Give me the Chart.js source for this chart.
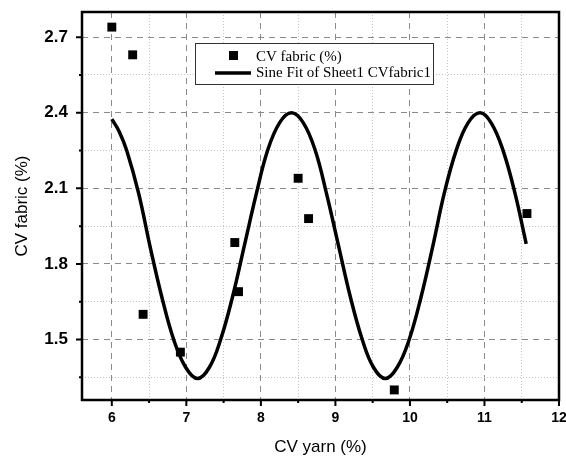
<!DOCTYPE html>
<html>
<head>
<meta charset="utf-8">
<script src="https://cdn.jsdelivr.net/npm/chart.js@4.4.0/dist/chart.umd.min.js"></script>
<style>
  html, body { margin: 0; padding: 0; background: #fff; }
  #wrap { width: 566px; height: 458px; position: relative; }
</style>
</head>
<body>
<div id="wrap"><canvas id="chart"></canvas></div>
<script>
// measured points
const yarnCV   = [6.00, 6.28, 6.42, 6.92, 7.65, 7.70, 8.50, 8.64, 9.79, 11.57]
const fabricCV = [2.74, 2.63, 1.60, 1.45, 1.885, 1.69, 2.14, 1.98, 1.30, 2.00]

// sine fit curve
const fitX = [6.00, 6.10, 6.20, 6.36, 6.52, 6.67, 6.83, 6.99, 7.15, 7.31, 7.46, 7.62, 7.78, 7.94, 8.09, 8.25, 8.41,
              8.57, 8.73, 8.88, 9.04, 9.20, 9.36, 9.51, 9.67, 9.83, 9.99, 10.15, 10.31, 10.46, 10.62,
              10.78, 10.94, 11.09, 11.25, 11.41, 11.56]
const fitY = [2.375, 2.325, 2.25, 2.08, 1.86, 1.67, 1.50, 1.39, 1.345, 1.39, 1.50, 1.67, 1.875, 2.08, 2.25, 2.36, 2.40,
              2.36, 2.25, 2.08, 1.875, 1.67, 1.50, 1.39, 1.345, 1.39, 1.50, 1.67, 1.875, 2.08, 2.25,
              2.36, 2.40, 2.36, 2.25, 2.08, 1.88]

const xLabels = ['6', '7', '8', '9', '10', '11', '12']
const yLabels = ['1.5', '1.8', '2.1', '2.4', '2.7']

const fmtY = v => (Math.round(v * 100) / 100).toFixed(1)
const isMajorX = v => Math.abs(v - Math.round(v)) < 1e-6 && xLabels.includes(String(Math.round(v)))
const isMajorY = v => Math.abs(v * 10 - Math.round(v * 10)) < 1e-6 && yLabels.includes(fmtY(v))

// major labels plus the halfway minor ticks
const xTickList = () => {
    const out = []
    xLabels.forEach((l, i) => {
        out.push({ value: +l })
        if (i < xLabels.length - 1) out.push({ value: (+l + +xLabels[i + 1]) / 2 })
    })
    return out
}
const yTickList = () => {
    const out = []
    const step = (+yLabels[1] - +yLabels[0]) / 2
    out.push({ value: +yLabels[0] - step })
    yLabels.forEach((l, i) => {
        out.push({ value: +l })
        if (i < yLabels.length - 1) out.push({ value: +l + step })
    })
    return out
}

const decor = {
    id: 'decor',
    afterDatasetsDraw(chart) {
        const { ctx, chartArea: a, scales: { x, y } } = chart
        ctx.save()
        ctx.strokeStyle = '#000'
        ctx.lineWidth = 2.5
        ctx.strokeRect(a.left, a.top, a.right - a.left, a.bottom - a.top)

        // outward tick marks
        ctx.lineWidth = 2
        ctx.beginPath()
        x.ticks.forEach(t => {
            const px = x.getPixelForValue(t.value)
            const len = isMajorX(t.value) ? 6 : 3
            ctx.moveTo(px, a.bottom)
            ctx.lineTo(px, a.bottom + len)
        })
        y.ticks.forEach(t => {
            const py = y.getPixelForValue(t.value)
            const len = isMajorY(t.value) ? 6 : 3
            ctx.moveTo(a.left, py)
            ctx.lineTo(a.left - len, py)
        })
        ctx.stroke()

        // legend box
        const bx = 195, by = 43, bw = 238, bh = 41
        ctx.fillStyle = '#fff'
        ctx.fillRect(bx, by, bw, bh)
        ctx.strokeStyle = '#333'
        ctx.lineWidth = 1
        ctx.strokeRect(bx + 0.5, by + 0.5, bw, bh)

        const ds = chart.data.datasets
        ctx.fillStyle = '#000'
        ctx.fillRect(229, 51, 9, 9)
        ctx.lineWidth = 3.5
        ctx.strokeStyle = '#000'
        ctx.beginPath()
        ctx.moveTo(215, 73)
        ctx.lineTo(251, 73)
        ctx.stroke()

        ctx.font = "15px 'Liberation Serif'"
        ctx.textBaseline = 'alphabetic'
        ctx.textAlign = 'left'
        ctx.fillText(ds[0].label, 256, 61)
        ctx.fillText(ds[1].label, 256, 77)
        ctx.restore()
    }
}

const ctx = document.getElementById('chart').getContext('2d')
new Chart(ctx, {
    type: 'scatter',
    data: {
        datasets: [{
            label: 'CV fabric (%)',
            data: yarnCV.map((v, i) => ({ x: v, y: fabricCV[i] })),
            pointStyle: 'rect',
            pointRadius: 6.3,
            pointHoverRadius: 6.3,
            backgroundColor: '#000',
            borderColor: '#000',
            borderWidth: 0
        }, {
            label: 'Sine Fit of Sheet1 CVfabric1',
            type: 'line',
            data: fitX.map((v, i) => ({ x: v, y: fitY[i] })),
            showLine: true,
            borderColor: '#000',
            borderWidth: 3.5,
            pointRadius: 0,
            fill: false,
            tension: 0.4
        }]
    },
    options: {
        responsive: true,
        maintainAspectRatio: false,
        animation: false,
        layout: { padding: { top: 12, right: 7, left: 0, bottom: 0 } },
        plugins: {
            legend: { display: false },
            tooltip: { enabled: false }
        },
        scales: {
            x: {
                type: 'linear',
                min: 5.6,
                max: 12,
                afterFit: s => { s.height = 58; s.paddingLeft = 0; s.paddingRight = 0 },
                afterBuildTicks: s => { s.ticks = xTickList() },
                ticks: {
                    autoSkip: false,
                    maxRotation: 0,
                    padding: 10,
                    color: '#000',
                    font: { family: "'Liberation Sans', Arial", size: 14, weight: 'bold' },
                    callback: v => isMajorX(v) ? String(Math.round(v)) : ''
                },
                grid: {
                    drawTicks: false,
                    color: c => isMajorX(c.tick.value) ? '#8a8a8a' : '#c4c4c4',
                    lineWidth: 1
                },
                border: {
                    display: false,
                    dash: c => c.tick && !isMajorX(c.tick.value) ? [1, 2] : [6, 5]
                },
                title: {
                    display: true,
                    text: 'CV yarn (%)',
                    color: '#000',
                    font: { family: "'Liberation Sans', Arial", size: 17 },
                    padding: { top: 0, bottom: 0 }
                }
            },
            y: {
                min: 1.26,
                max: 2.8,
                afterFit: s => { s.width = 82; s.paddingTop = 0; s.paddingBottom = 0 },
                afterBuildTicks: s => { s.ticks = yTickList() },
                ticks: {
                    autoSkip: false,
                    padding: 14,
                    color: '#000',
                    font: { family: "'Liberation Sans', Arial", size: 17, weight: 'bold' },
                    callback: v => isMajorY(v) ? fmtY(v) : ''
                },
                grid: {
                    drawTicks: false,
                    color: c => isMajorY(c.tick.value) ? '#8a8a8a' : '#c4c4c4',
                    lineWidth: 1
                },
                border: {
                    display: false,
                    dash: c => c.tick && !isMajorY(c.tick.value) ? [1, 2] : [6, 5]
                },
                title: {
                    display: true,
                    text: 'CV fabric (%)',
                    color: '#000',
                    font: { family: "'Liberation Sans', Arial", size: 17 },
                    padding: { top: 12, bottom: 0 }
                }
            }
        }
    },
    plugins: [decor]
})
</script>
</body>
</html>
